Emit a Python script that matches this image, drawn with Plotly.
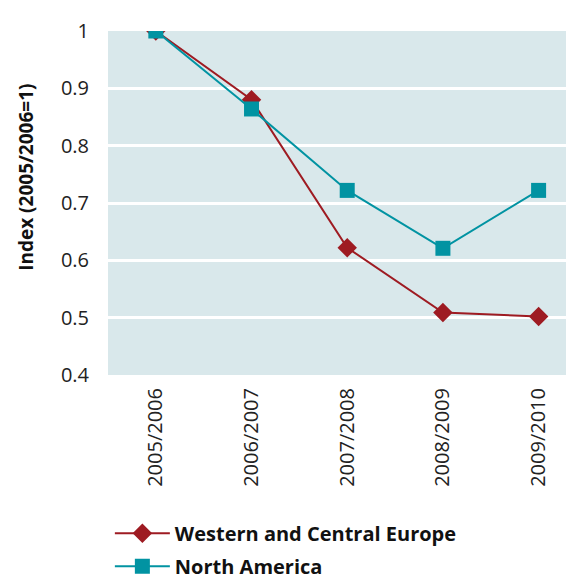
import plotly.graph_objs as go

years = ["2005/2006", "2006/2007", "2007/2008", "2008/2009", "2009/2010"]
western_central_europe = [1.0, 0.88, 0.622, 0.509, 0.502]
north_america = [1.0, 0.864, 0.722, 0.621, 0.722]
y_ticks = [0.4, 0.5, 0.6, 0.7, 0.8, 0.9, 1.0]
y_tick_text = ["0.4", "0.5", "0.6", "0.7", "0.8", "0.9", "1"]

RED = "#9e1b22"
TEAL = "#0193a2"
FONT = "Open Sans"

trace_wce = go.Scatter(
    x=years, y=western_central_europe, mode="lines+markers",
    name="<b>Western and Central Europe</b>", legendgroup="wce",
    line=dict(color=RED, width=2),
    marker=dict(symbol="diamond", size=15, color=RED),
)
trace_na = go.Scatter(
    x=years, y=north_america, mode="lines+markers",
    name="<b>North America</b>", legendgroup="na",
    line=dict(color=TEAL, width=2),
    marker=dict(symbol="square", size=15, color=TEAL),
)

fig = go.Figure(data=[trace_wce, trace_na])

# page body has an 8px margin, so the figure is shrunk by that amount
fig.update_layout(
    width=566, height=569,
    margin=dict(l=100, r=0, t=23, b=202),
    paper_bgcolor="white",
    plot_bgcolor="#d9e8eb",
    font=dict(family=FONT, size=20, color="#222222"),
    showlegend=True,
    legend=dict(
        orientation="v", x=0.004, y=0.111, xanchor="left", yanchor="top",
        yref="container",
        font=dict(family=FONT, size=20, color="#111111"),
        itemwidth=55, tracegroupgap=4, bgcolor="rgba(0,0,0,0)",
    ),
)

# y axis title as an annotation so it can sit where the reference has it
fig.add_annotation(
    text="<b>Index (2005/2006=1)</b>", textangle=-90,
    xref="paper", yref="paper", x=-0.176, y=0.576,
    xanchor="center", yanchor="middle", showarrow=False,
    font=dict(family=FONT, size=19, color="#111111"),
)

fig.update_xaxes(
    type="category", range=[-0.5, 4.37], automargin=False,
    tickangle=-90, showgrid=False, zeroline=False,
    showline=False, ticks="", ticklabelstandoff=8,
    tickfont=dict(size=20),
)
fig.update_yaxes(
    range=[0.4, 1.0], tickvals=y_ticks, ticktext=y_tick_text, automargin=False,
    showgrid=True, gridcolor="white", gridwidth=3, zeroline=False,
    showline=False, ticks="", ticklabelstandoff=18,
    tickfont=dict(size=20),
)

fig.write_html("out.html")
